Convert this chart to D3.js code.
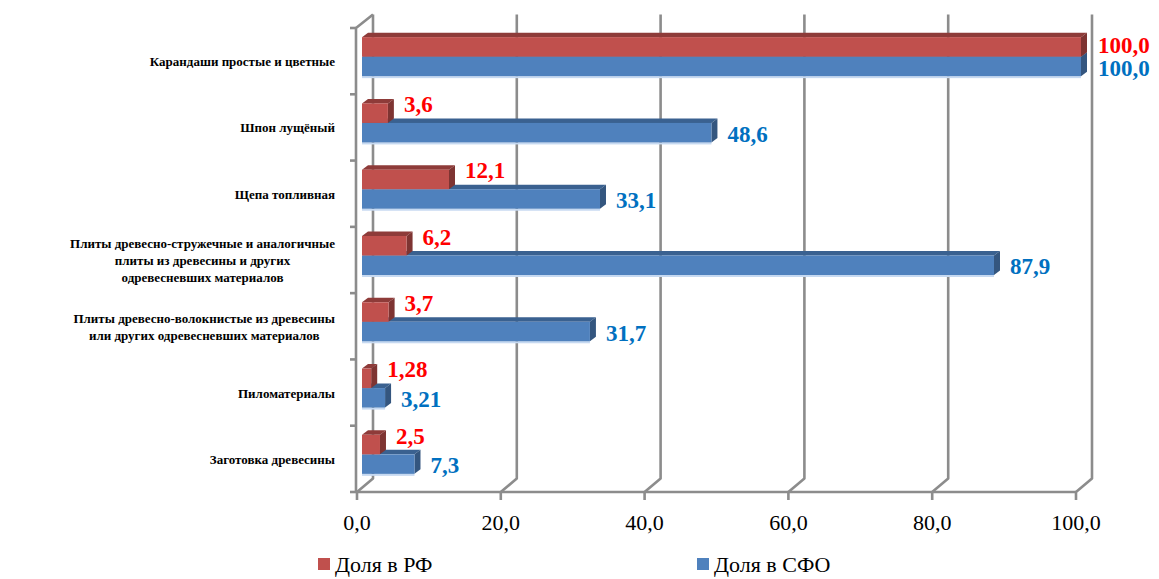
<html><head><meta charset="utf-8"><script src="https://cdn.jsdelivr.net/npm/d3@7"></script></head>
<body style="margin:0">
<div id="chart"></div>
<script>
// categories, top to bottom
const categories = [
    "Карандаши простые и цветные",
    "Шпон лущёный",
    "Щепа топливная",
    "Плиты древесно-стружечные и аналогичные|плиты из древесины и других|одревесневших материалов",
    "Плиты древесно-волокнистые из древесины|или других одревесневших материалов",
    "Пиломатериалы",
    "Заготовка древесины"
];
const shareRF  = [100, 3.6, 12.1, 6.2, 3.7, 1.28, 2.5];
const shareSFO = [100, 48.6, 33.1, 87.9, 31.7, 3.21, 7.3];
const xTicks = [0, 20, 40, 60, 80, 100];
const seriesNames = ["Доля в РФ", "Доля в СФО"];

const width = 1159, height = 579;
const FONT = "Liberation Serif";

// 3D offsets: back wall and bar plane relative to the front plane
const wall = { dx: 16, dy: -13.5 };
const plane = { dx: 5, dy: -4.5 };
const bevel = { dx: 6, dy: -4.5 };

const colors = {
    rf:  { front: "#C0504D", top: "#8E3B39", side: "#7E3432", label: "#FF0000" },
    sfo: { front: "#4F81BD", top: "#3A6190", side: "#34567F", label: "#0070C0" }
};

const svg = d3.select("#chart").append("svg")
    .attr("width", width)
    .attr("height", height);

const x = d3.scaleLinear().domain([0, 100]).range([357, 1076]);
const y = d3.scaleBand().domain(categories).range([28, 492]);
const series = d3.scaleBand().domain(["rf", "sfo"]).range([0, 39]);

const rows = categories.map((c, i) => ({ cat: c, rf: shareRF[i], sfo: shareSFO[i] }));

const fmt = v => (Number.isInteger(Math.round(v * 100) / 10) ? v.toFixed(1) : v.toFixed(2)).replace(".", ",");

// Walls and gridlines
const grid = svg.append("g")
    .attr("fill", "none")
    .attr("stroke", "#8C8C8C")
    .attr("stroke-width", 2.6)
    .attr("stroke-linejoin", "round");

const yTop = y.range()[0], yBot = y.range()[1];

xTicks.forEach(t => {
    const xf = x(t);
    grid.append("path")
        .attr("d", `M${xf + wall.dx},${yTop + wall.dy} L${xf + wall.dx},${yBot + wall.dy} L${xf},${yBot} L${xf},${yBot + 8}`);
});

// floor front edge
grid.append("line")
    .attr("x1", x(0)).attr("x2", x(100))
    .attr("y1", yBot).attr("y2", yBot);

// left side wall front edge + top connector
grid.append("path")
    .attr("d", `M${x(0) - 1},${yBot} L${x(0) - 1},${yTop} L${x(0) + wall.dx},${yTop + wall.dy}`);

// category ticks on the left
categories.concat([null]).forEach(c => {
    const yy = c ? y(c) : yBot;
    grid.append("line")
        .attr("x1", x(0) - 7).attr("x2", x(0) - 1)
        .attr("y1", yy).attr("y2", yy);
});

// Bars
const bars = svg.append("g");

function drawBar(g, v, top, key) {
    const h = series.bandwidth();
    const x0 = x(0) + plane.dx, x1 = x(v) + plane.dx;
    const c = colors[key];
    if (key === "sfo") {
        g.append("rect")
            .attr("x", x0).attr("y", top + h)
            .attr("width", x1 - x0).attr("height", 2)
            .attr("fill", "#C6D9F1");
    }
    g.append("path")
        .attr("d", `M${x0},${top} L${x1},${top} L${x1 + bevel.dx},${top + bevel.dy} L${x0 + bevel.dx},${top + bevel.dy}Z`)
        .attr("fill", c.top);
    g.append("path")
        .attr("d", `M${x1},${top} L${x1 + bevel.dx},${top + bevel.dy} L${x1 + bevel.dx},${top + h + bevel.dy} L${x1},${top + h}Z`)
        .attr("fill", c.side);
    g.append("rect")
        .attr("x", x0).attr("y", top)
        .attr("width", x1 - x0).attr("height", h)
        .attr("fill", c.front);
}

rows.forEach(d => {
    const g = bars.append("g");
    const groupTop = y(d.cat) + (y.bandwidth() - series.range()[1]) / 2 + plane.dy;
    drawBar(g, d.sfo, groupTop + series("sfo"), "sfo");
    drawBar(g, d.rf, groupTop + series("rf"), "rf");
    d.groupTop = groupTop;
});

// Value labels (y is the baseline)
rows.forEach(d => {
    const h = series.bandwidth();
    const full = d.rf >= 100;
    svg.append("text")
        .attr("font-family", FONT)
        .attr("font-size", 23)
        .attr("font-weight", "bold")
        .attr("x", x(d.rf) + plane.dx + (full ? 17 : 16))
        .attr("y", d.groupTop + series("rf") + h / 2 + (full ? 6 : -1))
        .attr("fill", colors.rf.label)
        .text(fmt(d.rf));
    svg.append("text")
        .attr("font-family", FONT)
        .attr("font-size", 23)
        .attr("font-weight", "bold")
        .attr("x", x(d.sfo) + plane.dx + (full ? 17 : 16))
        .attr("y", d.groupTop + series("sfo") + h / 2 + (full ? 10 : 9))
        .attr("fill", colors.sfo.label)
        .text(fmt(d.sfo));
});

// Category labels: block right aligned, lines centred within the block
categories.forEach(c => {
    const lines = c.split("|");
    const t = svg.append("text")
        .attr("font-family", FONT)
        .attr("font-size", 13)
        .attr("font-weight", "bold")
        .attr("text-anchor", "middle");
    const cy = y(c) + y.bandwidth() / 2 + 5;
    const spans = lines.map((l, i) => t.append("tspan")
        .attr("y", cy + (i - (lines.length - 1) / 2) * 17)
        .text(l));
    const w = d3.max(spans, s => s.node().getComputedTextLength());
    spans.forEach(s => s.attr("x", 335 - w / 2));
});

// X axis tick labels
xTicks.forEach(d => {
    svg.append("text")
        .attr("font-family", FONT)
        .attr("font-size", 22)
        .attr("text-anchor", "middle")
        .attr("x", x(d))
        .attr("y", 530)
        .text(d.toFixed(1).replace(".", ","));
});

// Legend
const legendX = [318, 697];
seriesNames.forEach((name, i) => {
    const key = i === 0 ? "rf" : "sfo";
    svg.append("rect")
        .attr("x", legendX[i]).attr("y", 558)
        .attr("width", 12).attr("height", 12)
        .attr("fill", colors[key].front);
    svg.append("text")
        .attr("font-family", FONT)
        .attr("font-size", 22)
        .attr("x", legendX[i] + 17).attr("y", 572)
        .text(name);
});
</script>
</body></html>
